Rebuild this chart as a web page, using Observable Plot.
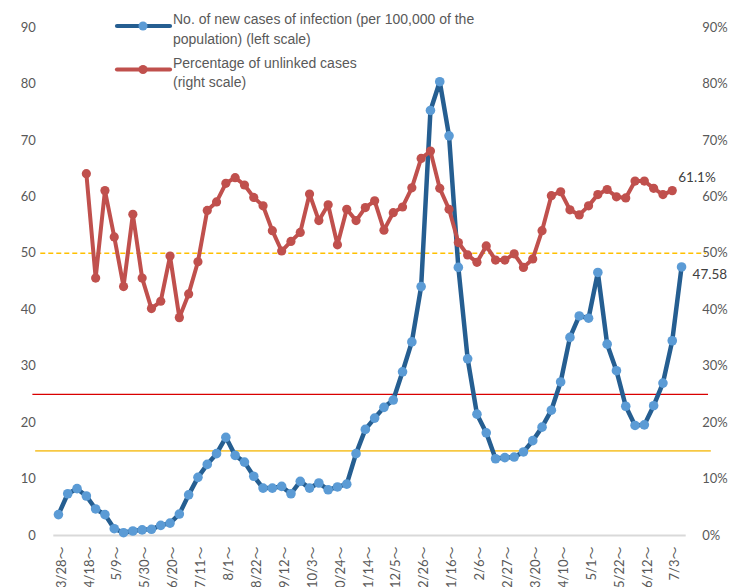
<!DOCTYPE html>
<html>
<head>
<meta charset="utf-8">
<script src="https://cdn.jsdelivr.net/npm/d3@7"></script>
<script src="https://cdn.jsdelivr.net/npm/@observablehq/plot@0.6"></script>
<style>
  html, body { margin: 0; padding: 0; background: #fff; }
  #wrap { position: relative; width: 733px; height: 587px; overflow: hidden; }
  .leg { position: absolute; font-family: "Liberation Sans", Arial, sans-serif; font-size: 14px; line-height: 19.5px; color: #595959; white-space: nowrap; }
  #legsvg { position: absolute; left: 0; top: 0; }
</style>
</head>
<body>
<div id="wrap"></div>
<script>
// Weekly data, week starting 3/28 (index 0) to 7/10 (index 67)
const tickLabels = ["3/28～","4/18～","5/9～","5/30～","6/20～","7/11～","8/1～","8/22～","9/12～","10/3～","10/24～","11/14～","12/5～","12/26～","1/16～","2/6～","2/27～","3/20～","4/10～","5/1～","5/22～","6/12～","7/3～"];

// No. of new cases of infection (per 100,000 of the population) (left scale)
const newCases = [3.7,7.4,8.3,7.0,4.7,3.7,1.2,0.5,0.8,1.0,
  1.1,1.8,2.2,3.8,7.2,10.3,12.6,14.5,17.4,14.2,
  13.0,10.5,8.4,8.4,8.7,7.4,9.6,8.4,9.3,8.1,
  8.6,9.1,14.5,18.8,20.8,22.7,24.0,29.0,34.3,44.1,
  75.3,80.4,70.8,47.5,31.3,21.5,18.2,13.6,13.8,13.9,
  14.8,16.8,19.2,22.2,27.2,35.1,38.9,38.5,46.6,33.9,
  29.2,22.9,19.5,19.6,23.0,27.0,34.5,47.58];

// Percentage of unlinked cases (right scale)
const unlinked = [null,null,null,64.1,45.6,61.1,52.9,44.1,56.9,45.6,
  40.2,41.5,49.5,38.6,42.8,48.5,57.6,59.1,62.4,63.4,
  62.1,59.9,58.4,54.0,50.4,52.1,53.7,60.5,55.8,58.6,
  51.5,57.8,55.8,58.1,59.3,54.1,57.2,58.2,61.6,66.8,
  68.1,61.5,57.8,51.9,49.7,48.4,51.3,48.8,48.8,49.9,
  47.5,49.0,54.0,60.2,60.9,57.7,56.8,58.4,60.4,61.3,
  60.0,59.8,62.8,62.8,61.5,60.4,61.1,null];

const leftTicks = [0,10,20,30,40,50,60,70,80,90];
const rightTicks = [0,10,20,30,40,50,60,70,80,90];

// Reference lines (value on left scale; x1/x2 in week-index units)
const solidRefLines = [
  {y: 25, x1: -2.75, x2: 69.9, color: "#D90000", width: 1.4},
  {y: 15, x1: -2.45, x2: 70.2, color: "#F7C843", width: 1.8}
];
const dashedRefLines = [
  {y: 50, x1: -1.9, x2: 69.7, color: "#FFC000", width: 1.4}
];

const casesData = newCases.map((v, i) => ({i, v}));
const unlinkedData = unlinked.map((v, i) => ({i, v})).filter(d => d.v != null);
const tickData = tickLabels.map((t, k) => ({i: k * 3, t}));
const lastCase = casesData[casesData.length - 1];
const lastUnlinked = unlinkedData[unlinkedData.length - 1];

const numFont = "Lato, 'Noto Sans CJK JP', 'Liberation Sans', sans-serif";

const chart = Plot.plot({
  width: 733,
  height: 587,
  marginLeft: 53.3,
  marginRight: 47.3,
  marginTop: 27,
  marginBottom: 52,
  x: {domain: [-0.5, 67.5], axis: null},
  y: {domain: [0, 90], axis: null},
  style: {fontFamily: numFont, fontSize: "13px", color: "#595959", background: "white", overflow: "visible"},
  marks: [
    Plot.ruleY([0], {stroke: "#D9D9D9", strokeWidth: 2}),
    Plot.ruleY(solidRefLines, {y: "y", x1: "x1", x2: "x2", stroke: d => d.color, strokeWidth: d => d.width}),
    Plot.ruleY(dashedRefLines, {y: "y", x1: "x1", x2: "x2", stroke: d => d.color, strokeWidth: 1.4, strokeDasharray: "5,3"}),
    Plot.axisY({anchor: "left", ticks: leftTicks, tickSize: 0, tickPadding: 18, tickFormat: d => String(d), fontSize: 13, fill: "#595959"}),
    Plot.axisY({anchor: "right", ticks: rightTicks, tickSize: 0, tickPadding: 16, tickFormat: d => d + "%", fontSize: 13, fill: "#595959"}),
    Plot.text(tickData, {x: "i", text: "t", frameAnchor: "bottom", rotate: -90, textAnchor: "end", lineAnchor: "middle", dy: 11, dx: 3, fontSize: 13, fill: "#595959"}),
    Plot.line(casesData, {x: "i", y: "v", stroke: "#255E91", strokeWidth: 4.5, strokeLinejoin: "round", strokeLinecap: "round"}),
    Plot.dot(casesData, {x: "i", y: "v", r: 4.8, fill: "#5B9BD5", stroke: "none"}),
    Plot.line(unlinkedData, {x: "i", y: "v", stroke: "#C0504D", strokeWidth: 4, strokeLinejoin: "round", strokeLinecap: "round"}),
    Plot.dot(unlinkedData, {x: "i", y: "v", r: 4.6, fill: "#C0504D", stroke: "none"}),
    Plot.text([lastCase], {x: "i", y: "v", text: d => d.v.toFixed(2), dx: 11, dy: 7.5, textAnchor: "start", fontSize: 13.5, fill: "#404040"}),
    Plot.text([lastUnlinked], {x: "i", y: "v", text: d => d.v.toFixed(1) + "%", dx: 6, dy: -13, textAnchor: "start", fontSize: 13.5, fill: "#404040"})
  ]
});

const wrap = document.getElementById("wrap");
wrap.appendChild(chart);

// Legend overlay (inside the chart area, as in the reference)
const legendItems = [
  {lines: ["No. of new cases of infection (per 100,000 of the", "population) (left scale)"], line: "#255E91", dot: "#5B9BD5", sy: 26, top: 10.2},
  {lines: ["Percentage of unlinked cases", "(right scale)"], line: "#C0504D", dot: "#C0504D", sy: 69.5, top: 53.5}
];
const ns = "http://www.w3.org/2000/svg";
const lsvg = document.createElementNS(ns, "svg");
lsvg.setAttribute("id", "legsvg");
lsvg.setAttribute("width", 200);
lsvg.setAttribute("height", 100);
for (const it of legendItems) {
  const ln = document.createElementNS(ns, "line");
  ln.setAttribute("x1", 117); ln.setAttribute("x2", 170);
  ln.setAttribute("y1", it.sy); ln.setAttribute("y2", it.sy);
  ln.setAttribute("stroke", it.line); ln.setAttribute("stroke-width", 4.2);
  ln.setAttribute("stroke-linecap", "round");
  lsvg.appendChild(ln);
  const c = document.createElementNS(ns, "circle");
  c.setAttribute("cx", 143); c.setAttribute("cy", it.sy); c.setAttribute("r", 4.5);
  c.setAttribute("fill", it.dot);
  lsvg.appendChild(c);
  const div = document.createElement("div");
  div.className = "leg";
  div.style.left = "173px";
  div.style.top = it.top + "px";
  div.innerHTML = it.lines.join("<br>");
  wrap.appendChild(div);
}
wrap.appendChild(lsvg);
</script>
</body>
</html>
